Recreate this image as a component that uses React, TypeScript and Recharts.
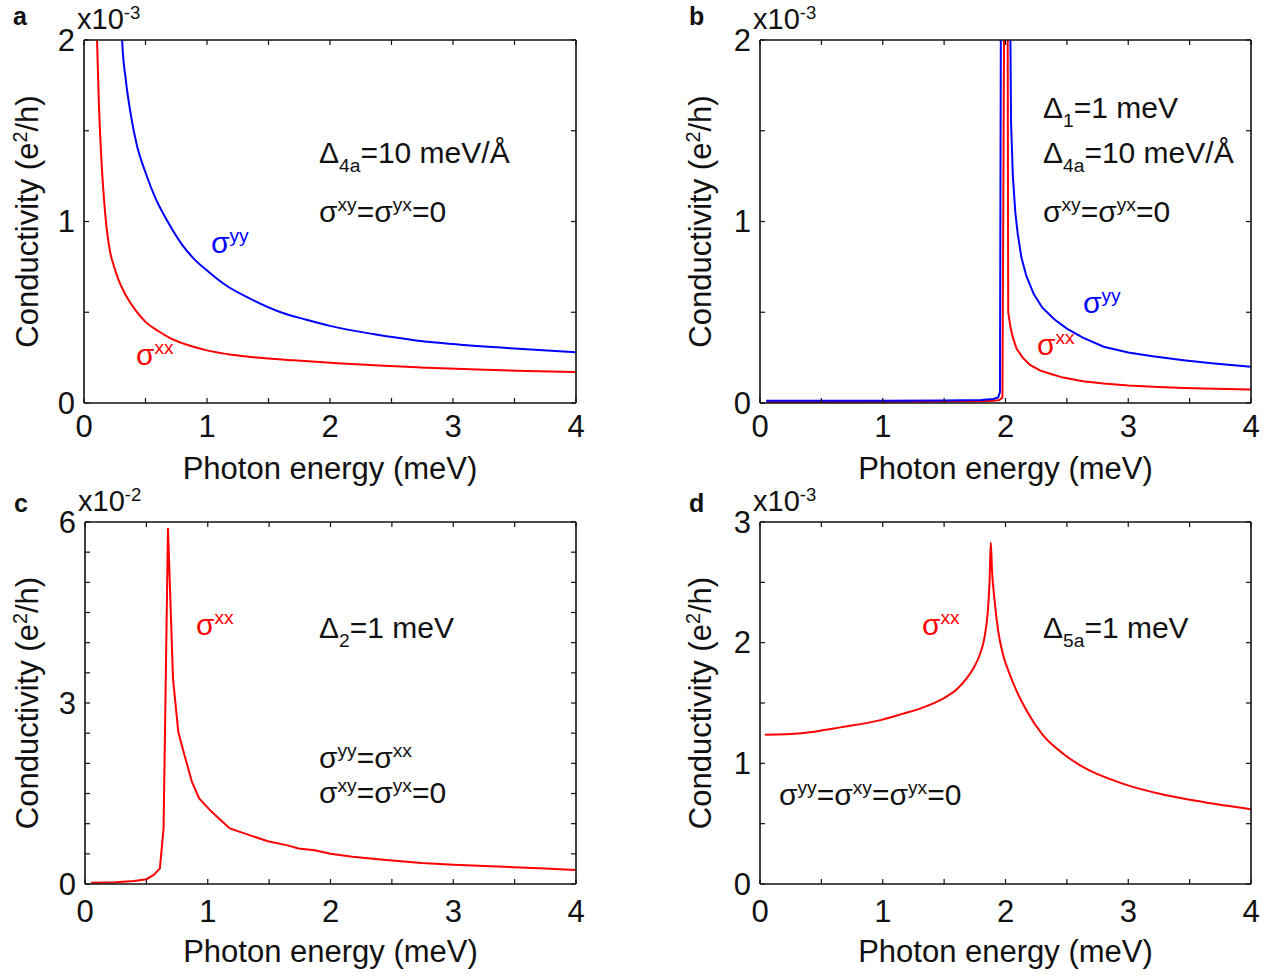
import React from "react";
import { LineChart, Line, XAxis, YAxis } from "recharts";

const FONT = "'Liberation Sans', Arial, Helvetica, sans-serif";
const RED = "#ff0000";
const BLUE = "#0000ff";
const INK = "#111";

// shared x axis (photon energy, meV)
const energyTicks = [0, 0.5, 1, 1.5, 2, 2.5, 3, 3.5, 4];
const energyLabels = [0, 1, 2, 3, 4];

// y ticks per panel
const ticksAB = [0, 0.5, 1, 1.5, 2];
const labelsAB = [0, 1, 2];
const ticksC = [0, 0.5, 1, 1.5, 2, 2.5, 3, 3.5, 4, 4.5, 5, 5.5, 6];
const labelsC = [0, 3, 6];
const ticksD = [0, 0.5, 1, 1.5, 2, 2.5, 3];
const labelsD = [0, 1, 2, 3];

// panel a : sigma xx (x1e-3)
const aXxE = [0.095, 0.106, 0.12, 0.14, 0.163, 0.19, 0.21, 0.245, 0.28, 0.32, 0.36, 0.42, 0.5, 0.6, 0.7, 0.85, 1.0, 1.2, 1.43, 1.7, 2.0, 2.4, 2.73, 3.2, 3.6, 4.0];
const aXxS = [2.3, 2.0, 1.67, 1.36, 1.12, 0.93, 0.84, 0.75, 0.68, 0.62, 0.57, 0.51, 0.447, 0.398, 0.358, 0.318, 0.29, 0.266, 0.249, 0.235, 0.222, 0.206, 0.196, 0.184, 0.176, 0.17];
// panel a : sigma yy
const aYyE = [0.295, 0.31, 0.34, 0.38, 0.43, 0.5, 0.58, 0.68, 0.8, 0.9, 1.0, 1.15, 1.35, 1.6, 1.8, 2.0, 2.35, 2.7, 3.0, 3.5, 4.0];
const aYyS = [2.3, 2.0, 1.78, 1.59, 1.42, 1.27, 1.13, 1.0, 0.87, 0.79, 0.73, 0.65, 0.575, 0.5, 0.46, 0.425, 0.38, 0.345, 0.325, 0.3, 0.28];

// panel b : sigma xx
const bXxE = [0.05, 0.5, 1.0, 1.5, 1.8, 1.9, 1.95, 1.975, 1.99, 2.017, 2.022, 2.04, 2.06, 2.09, 2.14, 2.2, 2.28, 2.37, 2.47, 2.63, 2.8, 3.0, 3.2, 3.45, 3.7, 4.0];
const bXxS = [0.006, 0.006, 0.007, 0.008, 0.01, 0.012, 0.016, 0.03, 2.3, 2.3, 0.5, 0.42, 0.36, 0.3, 0.25, 0.21, 0.18, 0.16, 0.14, 0.12, 0.108, 0.097, 0.09, 0.083, 0.078, 0.074];
// panel b : sigma yy
const bYyE = [0.05, 0.5, 1.0, 1.5, 1.8, 1.9, 1.94, 1.955, 1.963, 2.037, 2.045, 2.06, 2.08, 2.1, 2.13, 2.17, 2.23, 2.3, 2.4, 2.5, 2.63, 2.8, 3.0, 3.2, 3.45, 3.7, 4.0];
const bYyS = [0.012, 0.012, 0.013, 0.014, 0.017, 0.022, 0.03, 0.06, 2.3, 2.3, 1.55, 1.25, 1.05, 0.93, 0.8, 0.7, 0.6, 0.525, 0.46, 0.41, 0.36, 0.31, 0.278, 0.257, 0.236, 0.218, 0.2];

// panel c : sigma xx (x1e-2)
const cXxE = [0.05, 0.25, 0.4, 0.5, 0.56, 0.61, 0.64, 0.676, 0.717, 0.76, 0.81, 0.87, 0.93, 1.03, 1.1, 1.18, 1.34, 1.49, 1.65, 1.74, 1.87, 2.0, 2.18, 2.43, 2.74, 3.0, 3.36, 3.7, 4.0];
const cXxS = [0.02, 0.03, 0.05, 0.08, 0.15, 0.26, 0.92, 5.9, 3.4, 2.52, 2.14, 1.7, 1.42, 1.2, 1.07, 0.92, 0.81, 0.71, 0.64, 0.59, 0.56, 0.5, 0.45, 0.4, 0.35, 0.32, 0.29, 0.26, 0.23];

// panel d : sigma xx (x1e-3)
const dXxE = [0.04, 0.34, 0.665, 0.99, 1.16, 1.32, 1.48, 1.61, 1.68, 1.74, 1.79, 1.83, 1.855, 1.87, 1.88, 1.89, 1.91, 1.94, 1.98, 2.03, 2.09, 2.17, 2.3, 2.47, 2.63, 2.96, 3.29, 3.61, 4.0];
const dXxS = [1.237, 1.25, 1.3, 1.36, 1.41, 1.46, 1.53, 1.62, 1.7, 1.79, 1.9, 2.05, 2.25, 2.5, 2.83, 2.6, 2.36, 2.1, 1.9, 1.75, 1.6, 1.44, 1.24, 1.08, 0.97, 0.83, 0.74, 0.68, 0.62];

const zip = (xs: number[], ys: number[]) => xs.map((e, i) => ({ e, s: ys[i] }));

type Side = "bottom" | "top" | "left" | "right";
const TICK = 5;

function makeTick(side: Side, labels: number[], gap: number) {
  return (props: any) => {
    const { x, y, payload } = props;
    const v = payload.value;
    let d = { x2: x, y2: y };
    if (side === "bottom") d = { x2: x, y2: y - TICK };
    if (side === "top") d = { x2: x, y2: y + TICK };
    if (side === "left") d = { x2: x + TICK, y2: y };
    if (side === "right") d = { x2: x - TICK, y2: y };
    const show = labels.includes(v);
    return (
      <g>
        <line x1={x} y1={y} x2={d.x2} y2={d.y2} stroke={INK} strokeWidth={1.2} />
        {show && side === "bottom" && (
          <text x={x} y={y + gap} textAnchor="middle" dominantBaseline="central" fontFamily={FONT} fontSize={31} fill={INK}>
            {v}
          </text>
        )}
        {show && side === "left" && (
          <text x={x - gap} y={y} textAnchor="end" dominantBaseline="central" fontFamily={FONT} fontSize={31} fill={INK}>
            {v}
          </text>
        )}
      </g>
    );
  };
}

const AXIS = { stroke: INK, strokeWidth: 1.6 };

interface Series {
  data: { e: number; s: number }[];
  color: string;
}

interface PanelProps {
  left: number;
  top: number;
  w: number;
  h: number;
  yMax: number;
  yTicks: number[];
  yLabels: number[];
  gapX: number;
  curve: "linear" | "monotone";
  series: Series[];
}

function Panel(p: PanelProps) {
  return (
    <div style={{ position: "absolute", left: p.left - 84, top: p.top - 40 }}>
      <LineChart width={84 + p.w + 20} height={40 + p.h + 80} margin={{ top: 30, right: 10, bottom: 40, left: 24 }}>
        <XAxis xAxisId="b" type="number" dataKey="e" domain={[0, 4]} ticks={energyTicks} interval={0} orientation="bottom" height={40}
          tickSize={0} tickMargin={0} tickLine={false} axisLine={AXIS} tick={makeTick("bottom", energyLabels, p.gapX)} allowDataOverflow />
        <XAxis xAxisId="t" type="number" dataKey="e" domain={[0, 4]} ticks={energyTicks} interval={0} orientation="top" height={10}
          tickSize={0} tickMargin={0} tickLine={false} axisLine={AXIS} tick={makeTick("top", [], 0)} allowDataOverflow />
        <YAxis yAxisId="l" type="number" domain={[0, p.yMax]} ticks={p.yTicks} interval={0} orientation="left" width={60}
          tickSize={0} tickMargin={0} tickLine={false} axisLine={AXIS} tick={makeTick("left", p.yLabels, 9)} allowDataOverflow />
        <YAxis yAxisId="r" type="number" domain={[0, p.yMax]} ticks={p.yTicks} interval={0} orientation="right" width={10}
          tickSize={0} tickMargin={0} tickLine={false} axisLine={AXIS} tick={makeTick("right", [], 0)} allowDataOverflow />
        {p.series.map((s, i) => (
          <Line key={i} xAxisId="b" yAxisId="l" data={s.data} dataKey="s" type={p.curve} stroke={s.color} strokeWidth={2}
            dot={false} activeDot={false} isAnimationActive={false} />
        ))}
      </LineChart>
    </div>
  );
}

type Seg = { t: string; s?: "sup" | "sub" };

function Rich({ x, y, segs, size, fill = INK, anchor = "start", transform }: {
  x: number; y: number; segs: Seg[]; size: number; fill?: string; anchor?: string; transform?: string;
}) {
  let shift = 0;
  const parts = segs.map((g, i) => {
    const target = g.s === "sup" ? -0.36 * size : g.s === "sub" ? 0.3 * size : 0;
    const dy = target - shift;
    shift = target;
    return (
      <tspan key={i} dy={dy} fontSize={g.s ? size * 0.64 : size}>
        {g.t}
      </tspan>
    );
  });
  return (
    <text x={x} y={y} fontFamily={FONT} fontSize={size} fill={fill} textAnchor={anchor as any} transform={transform}>
      {parts}
    </text>
  );
}

const sigma = (sup: string): Seg[] => [{ t: "σ" }, { t: sup, s: "sup" }];

function Frame({ px, py, w, h, letter, exp, baseY, titleX, xTitleY }: {
  px: number; py: number; w: number; h: number; letter: string; exp: string; baseY: number; titleX: number; xTitleY: number;
}) {
  const cy = py + h / 2;
  return (
    <g>
      <text x={px - 71} y={baseY} fontFamily={FONT} fontWeight="bold" fontSize={25} fill={INK}>{letter}</text>
      <Rich x={px - 7} y={py - 11} size={29} segs={[{ t: "x10" }, { t: exp, s: "sup" }]} />
      <Rich x={0} y={0} size={31} anchor="middle" transform={`translate(${titleX},${cy}) rotate(-90)`}
        segs={[{ t: "Conductivity (e" }, { t: "2", s: "sup" }, { t: "/h)" }]} />
      <Rich x={px + w / 2} y={xTitleY} size={31} anchor="middle" segs={[{ t: "Photon energy (meV)" }]} />
    </g>
  );
}

export default function App() {
  const A = 30;
  return (
    <div style={{ position: "absolute", left: 0, top: 0, width: 1271, height: 976, background: "#fff" }}>
      <Panel left={84} top={40} w={492} h={363} yMax={2} yTicks={ticksAB} yLabels={labelsAB} gapX={23} curve="monotone"
        series={[{ data: zip(aXxE, aXxS), color: RED }, { data: zip(aYyE, aYyS), color: BLUE }]} />
      <Panel left={760} top={40} w={491} h={363} yMax={2} yTicks={ticksAB} yLabels={labelsAB} gapX={23} curve="linear"
        series={[{ data: zip(bXxE, bXxS), color: RED }, { data: zip(bYyE, bYyS), color: BLUE }]} />
      <Panel left={85} top={522} w={491} h={362} yMax={6} yTicks={ticksC} yLabels={labelsC} gapX={27} curve="linear"
        series={[{ data: zip(cXxE, cXxS), color: RED }]} />
      <Panel left={760} top={522} w={491} h={362} yMax={3} yTicks={ticksD} yLabels={labelsD} gapX={27} curve="monotone"
        series={[{ data: zip(dXxE, dXxS), color: RED }]} />

      <svg width={1271} height={976} style={{ position: "absolute", left: 0, top: 0, pointerEvents: "none" }}>
        <Frame px={84} py={40} w={492} h={363} letter="a" exp="-3" baseY={25} titleX={38} xTitleY={479} />
        <Frame px={760} py={40} w={491} h={363} letter="b" exp="-3" baseY={25} titleX={711} xTitleY={479} />
        <Frame px={85} py={522} w={491} h={362} letter="c" exp="-2" baseY={512} titleX={38} xTitleY={962} />
        <Frame px={760} py={522} w={491} h={362} letter="d" exp="-3" baseY={512} titleX={711} xTitleY={962} />

        {/* panel a */}
        <Rich x={319} y={163} size={A} segs={[{ t: "Δ" }, { t: "4a", s: "sub" }, { t: "=10 meV/Å" }]} />
        <Rich x={319} y={222} size={A} segs={[...sigma("xy"), { t: "=σ" }, { t: "yx", s: "sup" }, { t: "=0" }]} />
        <Rich x={211} y={253} size={A} fill={BLUE} segs={sigma("yy")} />
        <Rich x={136} y={365} size={A} fill={RED} segs={sigma("xx")} />

        {/* panel b */}
        <Rich x={1043} y={118} size={A} segs={[{ t: "Δ" }, { t: "1", s: "sub" }, { t: "=1 meV" }]} />
        <Rich x={1043} y={163} size={A} segs={[{ t: "Δ" }, { t: "4a", s: "sub" }, { t: "=10 meV/Å" }]} />
        <Rich x={1043} y={222} size={A} segs={[...sigma("xy"), { t: "=σ" }, { t: "yx", s: "sup" }, { t: "=0" }]} />
        <Rich x={1083} y={313} size={A} fill={BLUE} segs={sigma("yy")} />
        <Rich x={1037} y={355} size={A} fill={RED} segs={sigma("xx")} />

        {/* panel c */}
        <Rich x={196} y={635} size={A} fill={RED} segs={sigma("xx")} />
        <Rich x={319} y={638} size={A} segs={[{ t: "Δ" }, { t: "2", s: "sub" }, { t: "=1 meV" }]} />
        <Rich x={319} y={768} size={A} segs={[...sigma("yy"), { t: "=σ" }, { t: "xx", s: "sup" }]} />
        <Rich x={319} y={803} size={A} segs={[...sigma("xy"), { t: "=σ" }, { t: "yx", s: "sup" }, { t: "=0" }]} />

        {/* panel d */}
        <Rich x={922} y={635} size={A} fill={RED} segs={sigma("xx")} />
        <Rich x={1043} y={638} size={A} segs={[{ t: "Δ" }, { t: "5a", s: "sub" }, { t: "=1 meV" }]} />
        <Rich x={779} y={805} size={A}
          segs={[...sigma("yy"), { t: "=σ" }, { t: "xy", s: "sup" }, { t: "=σ" }, { t: "yx", s: "sup" }, { t: "=0" }]} />
      </svg>
    </div>
  );
}
